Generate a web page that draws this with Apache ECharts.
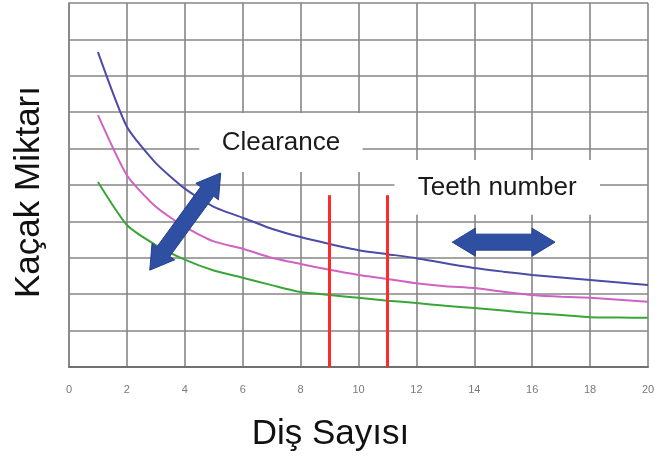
<!DOCTYPE html>
<html>
<head>
<meta charset="utf-8">
<script src="https://cdn.jsdelivr.net/npm/echarts@6/dist/echarts.min.js"></script>
<style>
  html, body { margin: 0; padding: 0; background: #fff; }
  #main { width: 666px; height: 457px; }
</style>
</head>
<body>
<div id="main"></div>
<script>
const teeth = [1, 2, 3, 4, 5, 6, 7, 8, 9, 10, 11, 12, 13, 14, 15, 16, 17, 18, 19, 20];
const blueLeak = [8.65, 6.6, 5.6, 4.9, 4.4, 4.1, 3.8, 3.57, 3.38, 3.21, 3.1, 2.99, 2.85, 2.72, 2.62, 2.53, 2.46, 2.39, 2.32, 2.25];
const pinkLeak = [6.92, 5.27, 4.4, 3.85, 3.45, 3.25, 3.0, 2.83, 2.67, 2.53, 2.42, 2.3, 2.22, 2.17, 2.07, 1.98, 1.93, 1.9, 1.85, 1.79];
const greenLeak = [5.08, 3.9, 3.35, 2.95, 2.65, 2.45, 2.25, 2.06, 1.98, 1.9, 1.82, 1.76, 1.68, 1.62, 1.55, 1.48, 1.43, 1.37, 1.36, 1.35];
const redLinesAt = [9, 11];
const redLineTop = 4.72;
const labelBoxes = [
  { text: 'Clearance', from: [4.5, 6.98], to: [10.14, 5.36] },
  { text: 'Teeth number', from: [11.24, 5.69], to: [18.34, 4.18] }
];
// arrows in data coordinates
const arrows = [
  { from: [2.79, 2.66], to: [5.24, 5.33] },
  { from: [13.24, 3.43], to: [16.79, 3.43] }
];

const chart = echarts.init(document.getElementById('main'));
const gridColor = '#868686';
const font = '"Liberation Sans", Arial, sans-serif';

const pair = (ys) => teeth.map((x, i) => [x, ys[i]]);

const option = {
  animation: false,
  grid: { left: 69, right: 18, top: 3, bottom: 90 },
  xAxis: {
    type: 'value',
    min: 0, max: 20, interval: 2,
    name: 'Diş Sayısı',
    nameLocation: 'middle',
    nameGap: 50,
    nameTextStyle: { fontSize: 35, color: '#111', fontFamily: font, padding: [0, 56, 0, 0] },
    axisLine: { show: true, lineStyle: { color: '#707070', width: 2 } },
    axisTick: { show: false },
    axisLabel: { fontSize: 11, color: '#7a7a7a', margin: 17, fontFamily: font },
    splitLine: { show: true, lineStyle: { color: gridColor, width: 1.6 } }
  },
  yAxis: {
    type: 'value',
    min: 0, max: 10, interval: 1,
    name: 'Kaçak Miktarı',
    nameLocation: 'middle',
    nameGap: 22,
    nameTextStyle: { fontSize: 35, color: '#111', fontFamily: font, padding: [0, 14, 0, 0] },
    axisLine: { show: true, lineStyle: { color: gridColor, width: 1.6 } },
    axisTick: { show: false },
    axisLabel: { show: false },
    splitLine: { show: true, lineStyle: { color: gridColor, width: 1.6 } }
  },
  series: [
    {
      type: 'line',
      data: [],
      z: 1,
      markArea: {
        silent: true,
        itemStyle: { color: '#ffffff' },
        label: {
          show: true, position: 'inside',
          fontSize: 26, color: '#1a1a1a', fontFamily: font
        },
        data: labelBoxes.map(b => [
          { name: b.text, coord: b.from },
          { coord: b.to }
        ])
      },
      markLine: {
        silent: true,
        symbol: 'none',
        label: { show: false },
        lineStyle: { color: '#ff2a2a', width: 3, type: 'solid' },
        data: redLinesAt.map(x => [{ coord: [x, 0] }, { coord: [x, redLineTop] }])
      }
    },
    {
      type: 'line', data: pair(blueLeak), showSymbol: false, z: 3, smooth: 0.2,
      lineStyle: { color: '#4b4ba8', width: 2 }
    },
    {
      type: 'line', data: pair(pinkLeak), showSymbol: false, z: 3, smooth: 0.2,
      lineStyle: { color: '#cf62c2', width: 2 }
    },
    {
      type: 'line', data: pair(greenLeak), showSymbol: false, z: 3, smooth: 0.2,
      lineStyle: { color: '#3aa63a', width: 2 }
    }
  ]
};

chart.setOption(option);

// double-headed block arrows, placed through the axes
function arrowPoints(p0, p1, shaft, head, headLen) {
  const dx = p1[0] - p0[0], dy = p1[1] - p0[1];
  const len = Math.sqrt(dx * dx + dy * dy);
  const ux = dx / len, uy = dy / len;
  const nx = -uy, ny = ux;
  const at = (t, w) => [p0[0] + ux * t + nx * w, p0[1] + uy * t + ny * w];
  return [
    at(0, 0),
    at(headLen, head), at(headLen, shaft),
    at(len - headLen, shaft), at(len - headLen, head),
    at(len, 0),
    at(len - headLen, -head), at(len - headLen, -shaft),
    at(headLen, -shaft), at(headLen, -head)
  ];
}

chart.setOption({
  graphic: arrows.map(a => ({
    type: 'polygon',
    z: 100,
    shape: {
      points: arrowPoints(
        chart.convertToPixel({ gridIndex: 0 }, a.from),
        chart.convertToPixel({ gridIndex: 0 }, a.to),
        8, 14, 23
      )
    },
    style: { fill: '#2f4fa2', stroke: '#24408c', lineWidth: 1 }
  }))
});
</script>
</body>
</html>
